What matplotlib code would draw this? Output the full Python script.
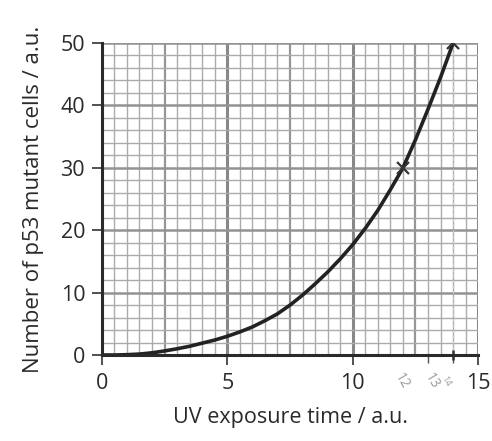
import matplotlib
matplotlib.use("Agg")
import matplotlib.pyplot as plt
import numpy as np

# curve, every half unit
exposure = [0, 0.5, 1, 1.5, 2, 2.5, 3, 3.5, 4, 4.5, 5, 5.5, 6, 6.5, 7, 7.5,
            8, 8.5, 9, 9.5, 10, 10.5, 11, 11.5, 12, 12.5, 13, 13.5, 14]
mutants = [0, 0, 0.05, 0.15, 0.35, 0.65, 1.0, 1.4, 1.9, 2.4, 3.0, 3.7, 4.5,
           5.5, 6.6, 8.0, 9.6, 11.4, 13.3, 15.4, 17.7, 20.3, 23.2, 26.5,
           30.0, 34.5, 39.4, 44.5, 50.0]
# plotted crosses
cross_x = [12, 14]
cross_y = [30, 50]
xticks = [0, 5, 10, 15]
yticks = [0, 10, 20, 30, 40, 50]
notes = ["12", "13", "14"]
note_x = [11.95, 13.15, 13.7]

plt.rcParams['font.family'] = ['Open Sans', 'DejaVu Sans']
fig = plt.figure(figsize=(4.92, 4.41), dpi=100)
ax = fig.add_axes([0.207, 0.195, 0.765, 0.7075])
ax.set_xlim(0, 15)
ax.set_ylim(0, 50)

# graph paper
for xv in np.arange(0, 15.01, 0.5):
    if abs(xv % 5) < 1e-6:
        lw, c = 2.2, '#888888'
    elif abs(xv % 2.5) < 1e-6:
        lw, c = 1.6, '#969696'
    else:
        lw, c = 1.0, '#ababab'
    ax.axvline(xv, color=c, lw=lw, zorder=1)
for yv in np.arange(0, 50.01, 2):
    if abs(yv % 10) < 1e-6:
        lw, c = 1.8, '#939393'
    else:
        lw, c = 1.0, '#ababab'
    ax.axhline(yv, color=c, lw=lw, zorder=1)

# faint dashed guide at x=14
ax.plot([14, 14], [0, 50], ls=(0, (3, 2)), color='#c8c8c8', lw=0.8, zorder=2)

ax.plot(exposure, mutants, color='#222222', lw=2.6, zorder=3)
ax.plot(cross_x, cross_y, 'x', color='#333333', ms=8, mew=1.6, zorder=4)
ax.plot([14], [0], marker='+', color='#333333', ms=7, mew=1.8, zorder=4,
        clip_on=False)

for s in ['top', 'right']:
    ax.spines[s].set_visible(False)
for s in ['left', 'bottom']:
    ax.spines[s].set_color('#2a2a2a')
    ax.spines[s].set_linewidth(2.2)
    ax.spines[s].set_zorder(5)

ax.set_xticks(xticks)
ax.set_yticks(yticks)
ax.set_xticks([13, 14], minor=True)
ax.tick_params(axis='both', which='major', direction='out', length=7,
               width=1.2, color='#333333', labelsize=15.5,
               labelcolor='#2a2a2a')
ax.tick_params(axis='x', which='major', pad=6)
ax.tick_params(axis='y', which='major', pad=5)
ax.tick_params(axis='x', which='minor', direction='out', length=6,
               width=1.0, color='#555555')
ax.set_xticklabels([str(v) for v in xticks])
ax.set_yticklabels([str(v) for v in yticks])

ax.set_xlabel('UV exposure time / a.u.', fontsize=15.5, color='#2a2a2a',
              labelpad=9)
ax.set_ylabel('Number of p53 mutant cells / a.u.', fontsize=16,
              color='#2a2a2a', labelpad=12)

# pencil notes under the axis
for t, xv, fs in zip(notes, note_x, [10, 10, 6.5]):
    ax.text(xv, -4.2, t, fontsize=fs, color='#9a9a9a', rotation=-60,
            ha='center', va='center', clip_on=False)

fig.savefig('out.png', dpi=100)
